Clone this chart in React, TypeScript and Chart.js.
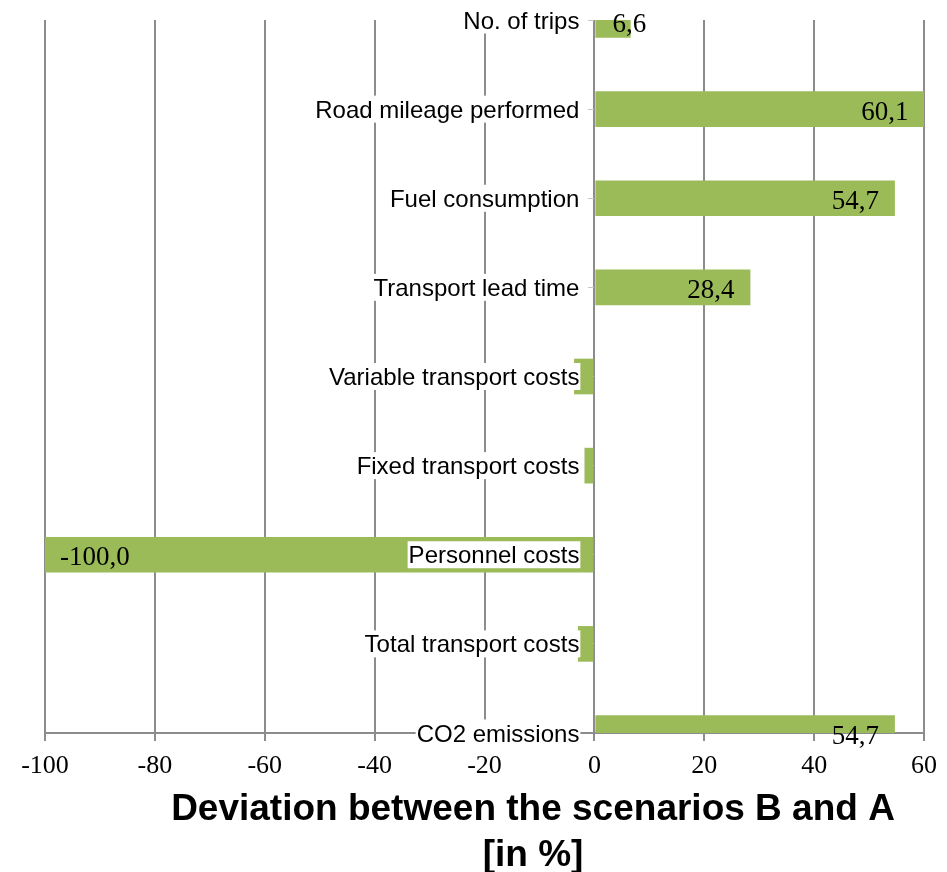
import React, { useEffect, useRef } from "react";
import { Chart, registerables } from "chart.js";

Chart.register(...registerables);

// Transport indicators compared between scenario B and scenario A
const categories: string[] = [
  "No. of trips",
  "Road mileage performed",
  "Fuel consumption",
  "Transport lead time",
  "Variable transport costs",
  "Fixed transport costs",
  "Personnel costs",
  "Total transport costs",
  "CO2 emissions",
];

// Deviation B vs. A in percent
const deviations: number[] = [6.6, 60.1, 54.7, 28.4, -3.7, -1.8, -100.0, -3.0, 54.7];

const xTicks: number[] = [-100, -80, -60, -40, -20, 0, 20, 40, 60];

const titleLines: string[] = ["Deviation between the scenarios B and A", "[in %]"];

const BAR_COLOR = "#9BBB59";
const GRID_COLOR = "#8c8c8c";
const SANS = "'Liberation Sans', Arial, sans-serif";
const SERIF = "'Liberation Serif', 'Times New Roman', serif";

const fmt = (v: number) => v.toFixed(1).replace(".", ",");

// Value labels at the inner end of each bar, then category names on white boxes next to the zero line
const labelPlugin = {
  id: "barLabels",
  afterDatasetsDraw(chart: any) {
    const { ctx, chartArea } = chart;
    const xs = chart.scales.x;
    const ys = chart.scales.y;
    const zero = xs.getPixelForValue(0);
    ctx.save();

    ctx.font = `27px ${SERIF}`;
    ctx.fillStyle = "#000";
    ctx.textBaseline = "alphabetic";
    ctx.textAlign = "left";
    deviations.forEach((v, i) => {
      if (Math.abs(v) < 5) return;
      const cy = ys.getPixelForValue(i);
      const end = xs.getPixelForValue(v);
      const text = fmt(v);
      const w = ctx.measureText(text).width;
      let left: number;
      if (v >= 0) {
        left = end - 16 - w;
        if (left < zero + 18) left = zero + 18;
      } else {
        left = end + 15;
      }
      const base = Math.max(cy + 10.5, chartArea.top + 12);
      ctx.fillText(text, left, base);
    });

    ctx.font = `24px ${SANS}`;
    ctx.textAlign = "right";
    const right = zero - 15;
    categories.forEach((c, i) => {
      const cy = ys.getPixelForValue(i);
      const w = ctx.measureText(c).width;
      ctx.fillStyle = "#fff";
      ctx.fillRect(right - w - 1, cy - 13.5, w + 2, 27);
      ctx.fillStyle = "#000";
      ctx.fillText(c, right, cy + 8.6);
    });
    ctx.restore();
  },
  afterDraw(chart: any) {
    const { ctx } = chart;
    ctx.save();
    ctx.font = `bold 37px ${SANS}`;
    ctx.fillStyle = "#000";
    ctx.textAlign = "center";
    ctx.textBaseline = "alphabetic";
    titleLines.forEach((line, i) => {
      ctx.fillText(line, 533, 820 + i * 46);
    });
    ctx.restore();
  },
};

export default function App() {
  const canvasRef = useRef<HTMLCanvasElement | null>(null);

  useEffect(() => {
    if (!canvasRef.current) return;
    const chart = new Chart(canvasRef.current, {
      type: "bar",
      data: {
        labels: categories,
        datasets: [
          {
            data: deviations,
            backgroundColor: BAR_COLOR,
            borderWidth: 0,
            categoryPercentage: 1,
            barPercentage: 0.4,
            clip: 0,
          } as any,
        ],
      },
      options: {
        indexAxis: "y",
        animation: false,
        responsive: false,
        events: [],
        layout: { padding: { left: 45, right: 22, top: 20, bottom: 0 } },
        plugins: {
          legend: { display: false },
          tooltip: { enabled: false },
          title: { display: false },
        },
        scales: {
          x: {
            type: "linear",
            min: -100,
            max: 60,
            afterBuildTicks: (scale: any) => {
              scale.ticks = xTicks.map((value) => ({ value }));
            },
            afterFit: (scale: any) => {
              scale.height = 139;
            },
            grid: {
              color: GRID_COLOR,
              lineWidth: 2,
              drawTicks: true,
              tickLength: 8,
            },
            border: { display: true, color: GRID_COLOR, width: 2 },
            ticks: {
              color: "#000",
              font: { family: SERIF, size: 26 },
              padding: 10,
              maxRotation: 0,
              autoSkip: false,
            },
          },
          y: {
            type: "category",
            position: { x: 0 } as any,
            offset: false,
            grid: {
              offset: false,
              drawOnChartArea: false,
              drawTicks: true,
              tickLength: 6,
              color: "#c4c4c4",
              lineWidth: 1,
            },
            border: { display: false },
            ticks: { display: false },
          },
        },
      },
      plugins: [labelPlugin],
    } as any);
    return () => chart.destroy();
  }, []);

  return (
    <div style={{ position: "absolute", left: 0, top: 0, width: 947, height: 872, background: "#fff" }}>
      <canvas ref={canvasRef} width={947} height={872} />
    </div>
  );
}
